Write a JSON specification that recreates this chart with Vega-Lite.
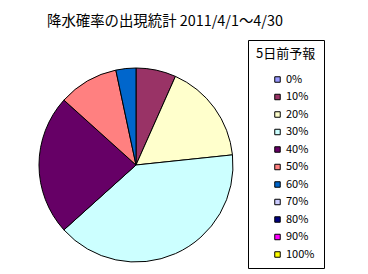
{
  "$schema": "https://vega.github.io/schema/vega-lite/v6.json",
  "autosize": "none",
  "width": 272,
  "height": 218,
  "padding": {"left": 0, "top": 56, "right": 96, "bottom": 0},
  "background": "white",
  "title": {
    "text": "降水確率の出現統計 2011/4/1～4/30",
    "anchor": "start",
    "dx": 47,
    "offset": 10
  },
  "data": {
    "values": [
      {"prob": "10%", "days": 2},
      {"prob": "20%", "days": 5},
      {"prob": "30%", "days": 12},
      {"prob": "40%", "days": 7},
      {"prob": "50%", "days": 3},
      {"prob": "60%", "days": 1}
    ]
  },
  "mark": {"type": "arc", "radius": 97, "stroke": "black", "strokeWidth": 1},
  "encoding": {
    "theta": {"field": "days", "type": "quantitative", "stack": true},
    "color": {
      "field": "prob",
      "type": "nominal",
      "scale": {
        "domain": ["0%", "10%", "20%", "30%", "40%", "50%", "60%", "70%", "80%", "90%", "100%"],
        "range": ["#9999FF", "#993366", "#FFFFCC", "#CCFFFF", "#660066", "#FF8080", "#0066CC", "#CCCCFF", "#000080", "#FF00FF", "#FFFF00"]
      },
      "legend": {
        "orient": "none",
        "legendX": 248,
        "legendY": -16,
        "title": "5日前予報",
        "titleFontSize": 13,
        "titleFontWeight": "normal",
        "titleColor": "black",
        "titlePadding": 13,
        "labelFontSize": 11,
        "labelColor": "black",
        "labelAlign": "left",
        "labelOffset": 3,
        "symbolType": "square",
        "symbolSize": 30,
        "symbolOffset": 16,
        "symbolStrokeColor": "black",
        "symbolStrokeWidth": 1,
        "symbolOpacity": 1,
        "strokeColor": "black",
        "padding": 8,
        "rowPadding": 5.5
      }
    }
  },
  "config": {
    "font": "Noto Sans CJK JP",
    "view": {"stroke": null},
    "title": {"font": "Noto Sans CJK JP", "fontSize": 14.4, "fontWeight": "normal", "color": "black"},
    "legend": {"titleFont": "Noto Sans CJK JP", "labelFont": "Noto Sans CJK JP"}
  }
}
